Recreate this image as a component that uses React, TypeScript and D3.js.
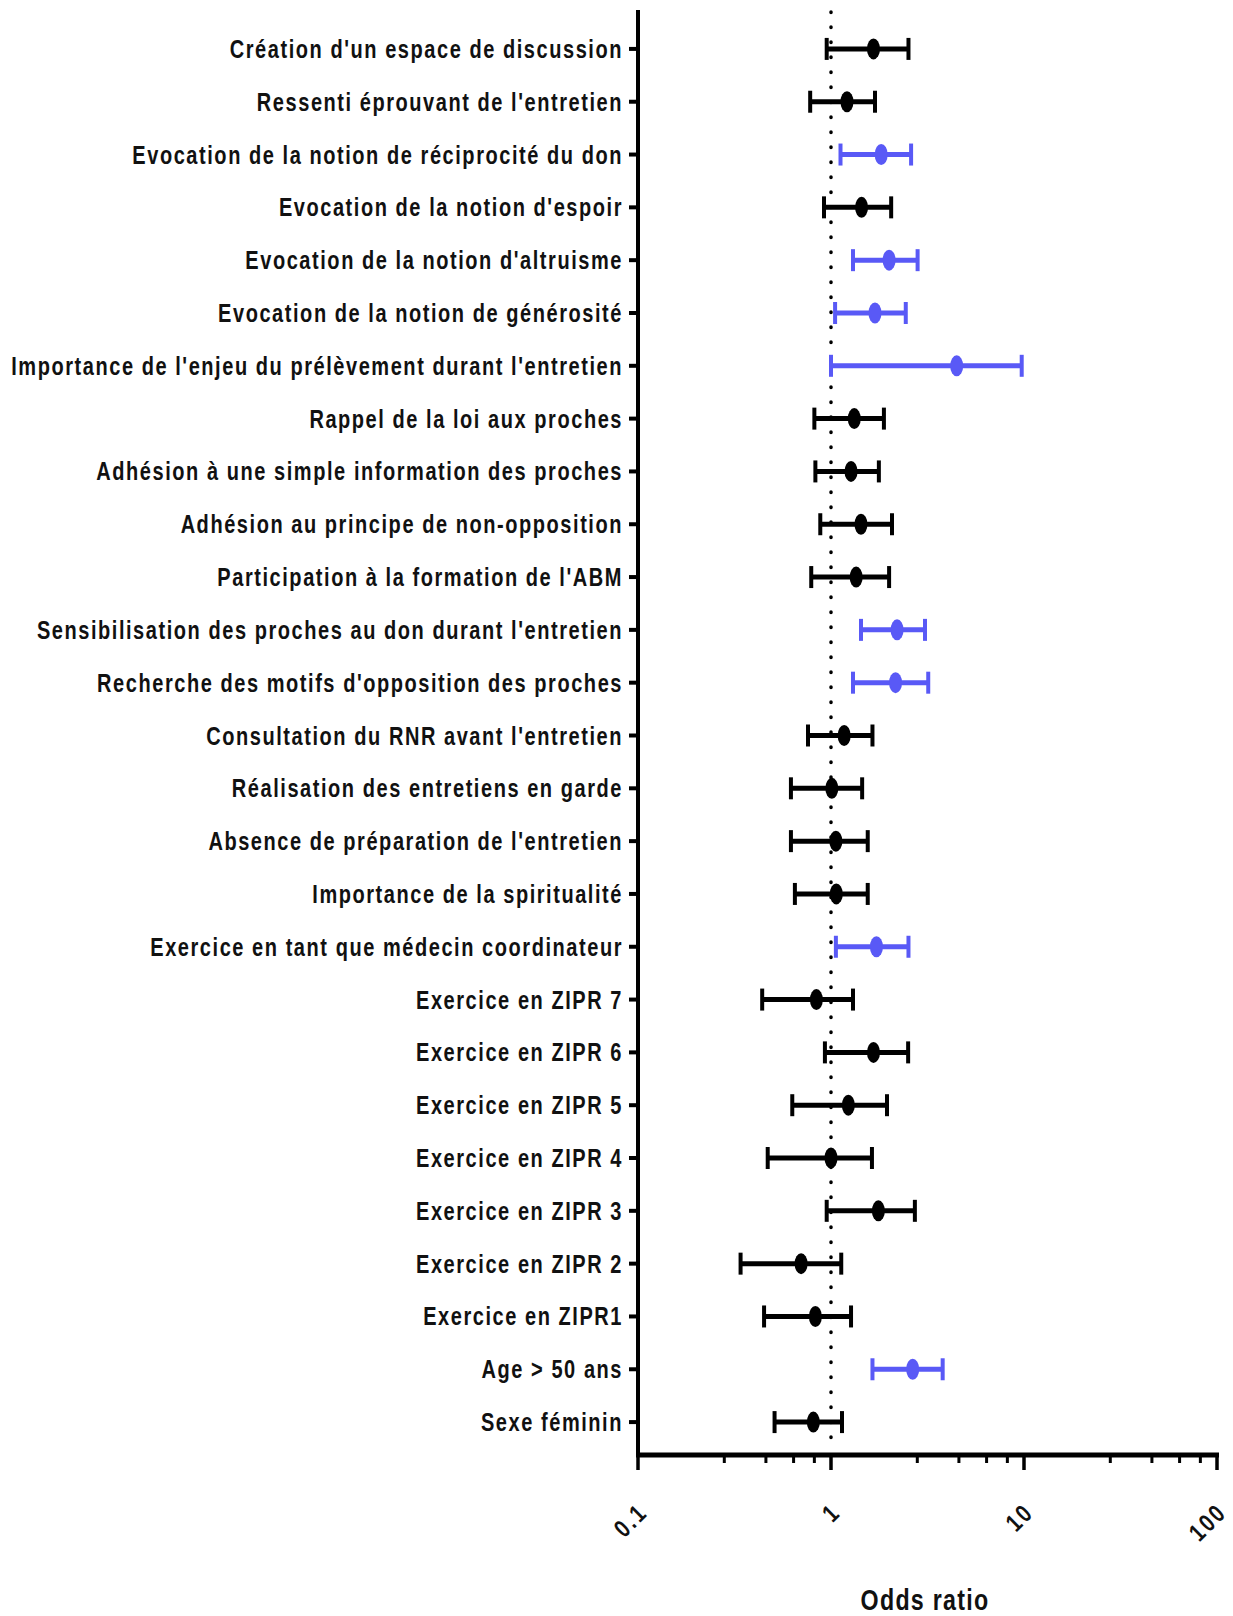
import { useEffect, useRef } from 'react';
import * as d3 from 'd3';

const labels = [
  "Création d'un espace de discussion",
  "Ressenti éprouvant de l'entretien",
  "Evocation de la notion de réciprocité du don",
  "Evocation de la notion d'espoir",
  "Evocation de la notion d'altruisme",
  "Evocation de la notion de générosité",
  "Importance de l'enjeu du prélèvement durant l'entretien",
  "Rappel de la loi aux proches",
  "Adhésion à une simple information des proches",
  "Adhésion au principe de non-opposition",
  "Participation à la formation de l'ABM",
  "Sensibilisation des proches au don durant l'entretien",
  "Recherche des motifs d'opposition des proches",
  "Consultation du RNR avant l'entretien",
  "Réalisation des entretiens en garde",
  "Absence de préparation de l'entretien",
  "Importance de la spiritualité",
  "Exercice en tant que médecin coordinateur",
  "Exercice en ZIPR 7",
  "Exercice en ZIPR 6",
  "Exercice en ZIPR 5",
  "Exercice en ZIPR 4",
  "Exercice en ZIPR 3",
  "Exercice en ZIPR 2",
  "Exercice en ZIPR1",
  "Age > 50 ans",
  "Sexe féminin",
];

const oddsRatio = [1.66, 1.21, 1.82, 1.44, 2.0, 1.69, 4.48, 1.32, 1.27, 1.43, 1.35, 2.2, 2.16, 1.17, 1.01, 1.06, 1.065, 1.72, 0.84, 1.66, 1.23, 1.0, 1.76, 0.7, 0.83, 2.65, 0.81];
const ciLow = [0.95, 0.78, 1.12, 0.92, 1.3, 1.05, 1.0, 0.82, 0.83, 0.88, 0.79, 1.43, 1.3, 0.76, 0.62, 0.62, 0.65, 1.06, 0.44, 0.93, 0.63, 0.47, 0.95, 0.34, 0.45, 1.64, 0.51];
const ciHigh = [2.52, 1.69, 2.6, 2.05, 2.81, 2.44, 9.73, 1.88, 1.77, 2.07, 2.0, 3.07, 3.19, 1.64, 1.45, 1.55, 1.55, 2.52, 1.3, 2.51, 1.95, 1.63, 2.72, 1.13, 1.27, 3.79, 1.14];
// significant rows are drawn in blue
const significant = [false, false, true, false, true, true, true, false, false, false, false, true, true, false, false, false, false, true, false, false, false, false, false, false, false, true, false];

const majorTicks = [0.1, 1, 10, 100];
const minorSteps = [2.8, 4.6, 6.4, 8.2];

// no narrow font installed: squeeze Liberation Sans Bold horizontally
const FONT = "'Liberation Sans', Arial, sans-serif";
const SQUEEZE = 0.8;

export default function App() {
  const svgRef = useRef<SVGSVGElement>(null);

  useEffect(() => {
    if (!svgRef.current) return;
    const width = 1233;
    const height = 1616;
    const blue = "#5959F6";

    d3.select(svgRef.current).selectAll("*").remove();
    const svg = d3.select(svgRef.current)
      .attr("width", width)
      .attr("height", height)
      .attr("viewBox", `0 0 ${width} ${height}`);

    const axisY = 1455;
    const axisX = 638;
    const x = d3.scaleLog().domain([0.1, 100]).range([axisX, 1217]);
    const y = d3.scalePoint<string>().domain(labels).range([13, 1458]).padding(0.68);

    const rows = labels.map((name, i) => ({
      name, or: oddsRatio[i], lo: ciLow[i], hi: ciHigh[i], sig: significant[i],
    }));

    // reference line at OR = 1
    svg.append("line")
      .attr("x1", x(1)).attr("x2", x(1))
      .attr("y1", 12).attr("y2", axisY - 6)
      .style("stroke", "#000")
      .style("stroke-width", 3.5)
      .style("stroke-linecap", "round")
      .style("stroke-dasharray", "0.5 14.5");

    // y axis
    svg.append("line")
      .attr("x1", axisX).attr("x2", axisX)
      .attr("y1", 10).attr("y2", axisY + 2)
      .style("stroke", "#000").style("stroke-width", 4);

    const yTicks = svg.append("g");
    yTicks.selectAll("line")
      .data(labels)
      .enter()
      .append("line")
      .attr("x1", axisX - 9).attr("x2", axisX)
      .attr("y1", d => y(d)!).attr("y2", d => y(d)!)
      .style("stroke", "#000").style("stroke-width", 4);

    yTicks.selectAll("text")
      .data(labels)
      .enter()
      .append("text")
      .attr("transform", d => `translate(${axisX - 15},${y(d)! + 9}) scale(${SQUEEZE},1)`)
      .attr("text-anchor", "end")
      .text(d => d)
      .style("font-family", FONT)
      .style("font-weight", "bold")
      .style("font-size", "25px")
      .style("letter-spacing", "1.95px")
      .style("fill", "#111");

    // x axis
    svg.append("line")
      .attr("x1", axisX - 2).attr("x2", 1219)
      .attr("y1", axisY).attr("y2", axisY)
      .style("stroke", "#000").style("stroke-width", 5);

    const minorTicks: number[] = [];
    majorTicks.slice(0, -1).forEach(m => minorSteps.forEach(s => minorTicks.push(m * s)));

    svg.append("g").selectAll("line")
      .data(majorTicks)
      .enter()
      .append("line")
      .attr("x1", d => x(d)).attr("x2", d => x(d))
      .attr("y1", axisY).attr("y2", axisY + 15)
      .style("stroke", "#000").style("stroke-width", 3.5);

    svg.append("g").selectAll("line")
      .data(minorTicks)
      .enter()
      .append("line")
      .attr("x1", d => x(d)).attr("x2", d => x(d))
      .attr("y1", axisY).attr("y2", axisY + 8)
      .style("stroke", "#000").style("stroke-width", 3);

    svg.append("g").selectAll("text")
      .data(majorTicks)
      .enter()
      .append("text")
      .attr("transform", d => `translate(${x(d) + 11},${axisY + 59}) rotate(-45) scale(${SQUEEZE},1)`)
      .attr("text-anchor", "end")
      .text(d => String(d))
      .style("font-family", FONT)
      .style("font-weight", "bold")
      .style("font-size", "25px")
      .style("letter-spacing", "3px")
      .style("fill", "#111");

    svg.append("text")
      .attr("transform", `translate(925,1610) scale(${SQUEEZE},1)`)
      .attr("text-anchor", "middle")
      .text("Odds ratio")
      .style("font-family", FONT)
      .style("font-weight", "bold")
      .style("font-size", "29px")
      .style("letter-spacing", "1.6px")
      .style("fill", "#111");

    // error bars
    const bars = svg.append("g")
      .selectAll("g")
      .data(rows)
      .enter()
      .append("g")
      .style("stroke", d => d.sig ? blue : "#000")
      .style("fill", d => d.sig ? blue : "#000");

    bars.append("line")
      .attr("x1", d => x(d.lo)).attr("x2", d => x(d.hi))
      .attr("y1", d => y(d.name)!).attr("y2", d => y(d.name)!)
      .style("stroke-width", 5);

    bars.append("line")
      .attr("x1", d => x(d.lo)).attr("x2", d => x(d.lo))
      .attr("y1", d => y(d.name)! - 11).attr("y2", d => y(d.name)! + 11)
      .style("stroke-width", 4);

    bars.append("line")
      .attr("x1", d => x(d.hi)).attr("x2", d => x(d.hi))
      .attr("y1", d => y(d.name)! - 11).attr("y2", d => y(d.name)! + 11)
      .style("stroke-width", 4);

    bars.append("ellipse")
      .attr("cx", d => x(d.or))
      .attr("cy", d => y(d.name)!)
      .attr("rx", 6.5)
      .attr("ry", 10.5)
      .style("stroke", "none");
  }, []);

  return (
    <svg ref={svgRef} style={{ position: 'absolute', left: 0, top: 0, background: '#fff' }} />
  );
}
